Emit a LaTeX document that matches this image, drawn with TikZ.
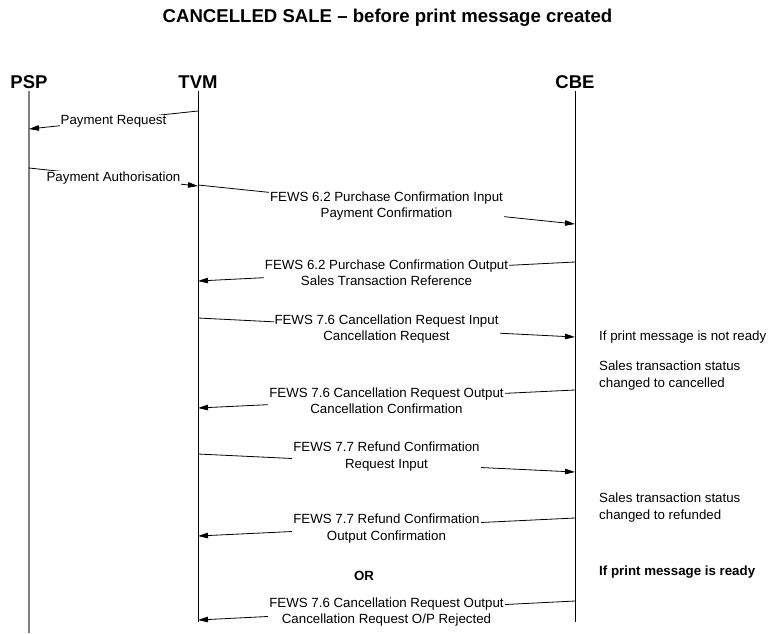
\documentclass[tikz,border=0pt]{standalone}
\usepackage{fontspec}
\setmainfont{Liberation Sans}
\usetikzlibrary{arrows.meta}
\begin{document}
\begin{tikzpicture}[x=1pt,y=-1pt,
  every node/.style={font=\fontsize{13.3}{16.3}\selectfont},
  headbox/.style={font=\fontsize{18.5}{20}\selectfont\bfseries, inner sep=2pt},
  life/.style={line width=0.8pt},
  msg/.style={line width=0.8pt, -{Triangle[length=10pt,width=5.5pt]}},
  lbl/.style={fill=white, inner sep=1pt, align=center, yshift=-1.5pt},
  note/.style={anchor=west, align=left, inner sep=0pt}]
\useasboundingbox (0,0) rectangle (774,633);
\node[font=\fontsize{18.6}{20}\selectfont\bfseries] (title) at (387.5,17.5) {CANCELLED SALE – before print message created};
\node[headbox] (psp) at (29,82) {PSP};
\node[headbox] (tvm) at (198,82) {TVM};
\node[headbox] (cbe) at (575,82) {CBE};
\coordinate (pspend) at (29,633);
\coordinate (tvmend) at (198,622);
\coordinate (cbeend) at (575,622);
\draw[life, gray, line width=1.5pt] (psp.south) -- (pspend);
\draw[life] (tvm.south) -- (tvmend);
\draw[life] (cbe.south) -- (cbeend);
% message end points
\coordinate (a1) at (198,111); \coordinate (b1) at (29,129);
\coordinate (a2) at (29,168);  \coordinate (b2) at (198,186);
\coordinate (a3) at (198,185); \coordinate (b3) at (575,224);
\coordinate (a4) at (575,262); \coordinate (b4) at (198,281);
\coordinate (a5) at (198,318); \coordinate (b5) at (575,337);
\coordinate (a6) at (575,390); \coordinate (b6) at (198,408);
\coordinate (a7) at (198,454); \coordinate (b7) at (575,472);
\coordinate (a8) at (575,518); \coordinate (b8) at (198,536);
\coordinate (a9) at (575,601); \coordinate (b9) at (198,620);
\draw[msg] (a1) -- node[lbl] (l1) {Payment Request} (b1);
\draw[msg] (a2) -- node[lbl] (l2) {Payment Authorisation} (b2);
\draw[msg] (a3) -- node[lbl] (l3) {FEWS 6.2 Purchase Confirmation Input\\Payment Confirmation} (b3);
\draw[msg] (a4) -- node[lbl] (l4) {FEWS 6.2 Purchase Confirmation Output\\Sales Transaction Reference} (b4);
\draw[msg] (a5) -- node[lbl] (l5) {FEWS 7.6 Cancellation Request Input\\Cancellation Request} (b5);
\draw[msg] (a6) -- node[lbl] (l6) {FEWS 7.6 Cancellation Request Output\\Cancellation Confirmation} (b6);
\draw[msg] (a7) -- node[lbl, yshift=8pt] (l7) {FEWS 7.7 Refund Confirmation\\Request Input} (b7);
\draw[msg] (a8) -- node[lbl] (l8) {FEWS 7.7 Refund Confirmation\\Output Confirmation} (b8);
\draw[msg] (a9) -- node[lbl] (l9) {FEWS 7.6 Cancellation Request Output\\Cancellation Request O/P Rejected} (b9);
\node[font=\fontsize{13.3}{16.3}\selectfont\bfseries] (or) at (364,575.5) {OR};
\node[note] (n1) at (599,337.5) {If print message is not ready};
\node[note] (n2) at (599,375.5) {Sales transaction status\\changed to cancelled};
\node[note] (n3) at (599,507.5) {Sales transaction status\\changed to refunded};
\node[note, font=\fontsize{13.3}{16.3}\selectfont\bfseries] (n4) at (599,572.5) {If print message is ready};
\end{tikzpicture}
\end{document}
